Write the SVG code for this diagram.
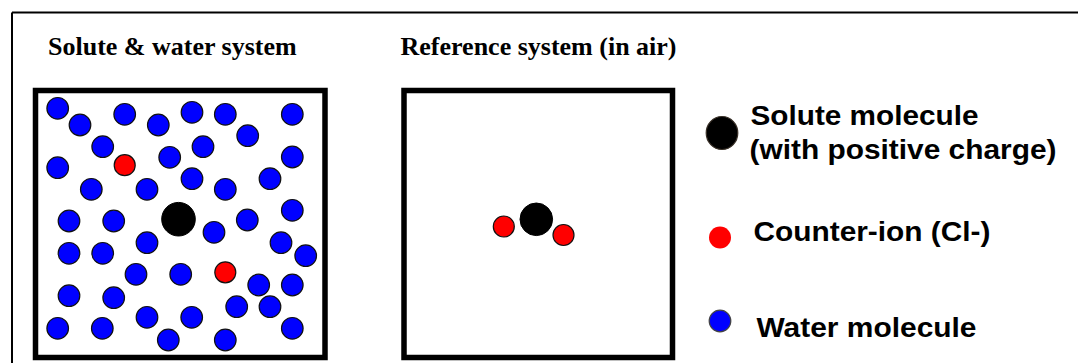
<svg xmlns="http://www.w3.org/2000/svg" width="1078" height="363" viewBox="0 0 1078 363">
<style>
.title{font-family:"Liberation Serif","Times New Roman",serif;font-weight:bold;font-size:26px;fill:#000}
.leg{font-family:"Liberation Sans",Arial,sans-serif;font-weight:bold;font-size:28px;fill:#000}
.box{fill:#fff;stroke:#000;stroke-width:5.5}
.w{fill:#0000ff;stroke:#111;stroke-width:1.2}
.c{fill:#ff0000;stroke:#111;stroke-width:1.2}
.s{fill:#000;stroke:#000;stroke-width:1}
</style>
<rect width="1078" height="363" fill="#fff"/>
<g id="frame" stroke="#000" stroke-width="2" fill="none">
<line x1="12" y1="12.5" x2="1078" y2="12.5"/>
<line x1="12" y1="12.5" x2="12" y2="363"/>
</g>
<g id="title-solute-water"><text class="title" x="48" y="54.5">Solute &amp; water system</text></g>
<g id="title-reference"><text class="title" x="400.5" y="54.5">Reference system (in air)</text></g>
<g id="water-system">
<rect class="box" x="35.5" y="90.5" width="289.5" height="267"/>
<g id="waters">
<circle class="w" cx="57.7" cy="108.3" r="10.8"/>
<circle class="w" cx="80" cy="125" r="10.8"/>
<circle class="w" cx="124.7" cy="114.3" r="10.8"/>
<circle class="w" cx="158.3" cy="125" r="10.8"/>
<circle class="w" cx="192" cy="112.3" r="10.8"/>
<circle class="w" cx="225.3" cy="114.3" r="10.8"/>
<circle class="w" cx="292.3" cy="114.3" r="10.8"/>
<circle class="w" cx="247.7" cy="135.7" r="10.8"/>
<circle class="w" cx="102.7" cy="146.7" r="10.8"/>
<circle class="w" cx="203" cy="146.7" r="10.8"/>
<circle class="w" cx="169.7" cy="157.3" r="10.8"/>
<circle class="w" cx="292.3" cy="157" r="10.8"/>
<circle class="w" cx="57.7" cy="167.7" r="10.8"/>
<circle class="w" cx="91.3" cy="189.3" r="10.8"/>
<circle class="w" cx="147" cy="189.3" r="10.8"/>
<circle class="w" cx="192" cy="178.7" r="10.8"/>
<circle class="w" cx="225.3" cy="189.3" r="10.8"/>
<circle class="w" cx="270" cy="178.7" r="10.8"/>
<circle class="w" cx="292.3" cy="210.3" r="10.8"/>
<circle class="w" cx="69" cy="221" r="10.8"/>
<circle class="w" cx="113.7" cy="221" r="10.8"/>
<circle class="w" cx="247.3" cy="220" r="10.8"/>
<circle class="w" cx="214" cy="232.3" r="10.8"/>
<circle class="w" cx="147" cy="242.7" r="10.8"/>
<circle class="w" cx="69" cy="253.3" r="10.8"/>
<circle class="w" cx="102.7" cy="253.3" r="10.8"/>
<circle class="w" cx="281" cy="242.7" r="10.8"/>
<circle class="w" cx="305.7" cy="255.7" r="10.8"/>
<circle class="w" cx="136" cy="274.3" r="10.8"/>
<circle class="w" cx="180.7" cy="274.3" r="10.8"/>
<circle class="w" cx="258.7" cy="285" r="10.8"/>
<circle class="w" cx="292.3" cy="285" r="10.8"/>
<circle class="w" cx="69" cy="295.7" r="10.8"/>
<circle class="w" cx="113.7" cy="297.7" r="10.8"/>
<circle class="w" cx="236.7" cy="306.7" r="10.8"/>
<circle class="w" cx="270" cy="306.7" r="10.8"/>
<circle class="w" cx="147" cy="317.3" r="10.8"/>
<circle class="w" cx="191.7" cy="317.3" r="10.8"/>
<circle class="w" cx="57.7" cy="328.3" r="10.8"/>
<circle class="w" cx="102.3" cy="328.3" r="10.8"/>
<circle class="w" cx="292.3" cy="328.3" r="10.8"/>
<circle class="w" cx="168.3" cy="340" r="10.8"/>
<circle class="w" cx="225.3" cy="340" r="10.8"/>
</g>
<circle class="c" cx="124.7" cy="165.2" r="10.5"/>
<circle class="c" cx="225.3" cy="272.3" r="10.5"/>
<circle class="s" cx="178.5" cy="219.2" r="16.8"/>
</g>
<g id="reference-system">
<rect class="box" x="404" y="90.5" width="268.5" height="267"/>
<circle class="c" cx="503.8" cy="226.5" r="10.5"/>
<circle class="s" cx="536.3" cy="219.3" r="16.3"/>
<circle class="c" cx="563.5" cy="235" r="10.5"/>
</g>
<g id="legend-solute">
<ellipse cx="722" cy="133" rx="15.8" ry="16.5" fill="#000" stroke="#3a3128" stroke-width="1.2"/>
<text class="leg" x="750.5" y="124.5" textLength="228" lengthAdjust="spacingAndGlyphs">Solute molecule</text>
<text class="leg" x="749.5" y="158.5" textLength="307" lengthAdjust="spacingAndGlyphs">(with positive charge)</text>
</g>
<g id="legend-counterion">
<circle cx="720" cy="237.5" r="11" fill="#ff0000"/>
<text class="leg" x="753.5" y="241" textLength="237" lengthAdjust="spacingAndGlyphs">Counter-ion (Cl-)</text>
</g>
<g id="legend-water">
<circle cx="720" cy="321" r="10.8" fill="#0000ff" stroke="#444" stroke-width="1.2"/>
<text class="leg" x="756.5" y="336.5" textLength="220" lengthAdjust="spacingAndGlyphs">Water molecule</text>
</g>
</svg>
